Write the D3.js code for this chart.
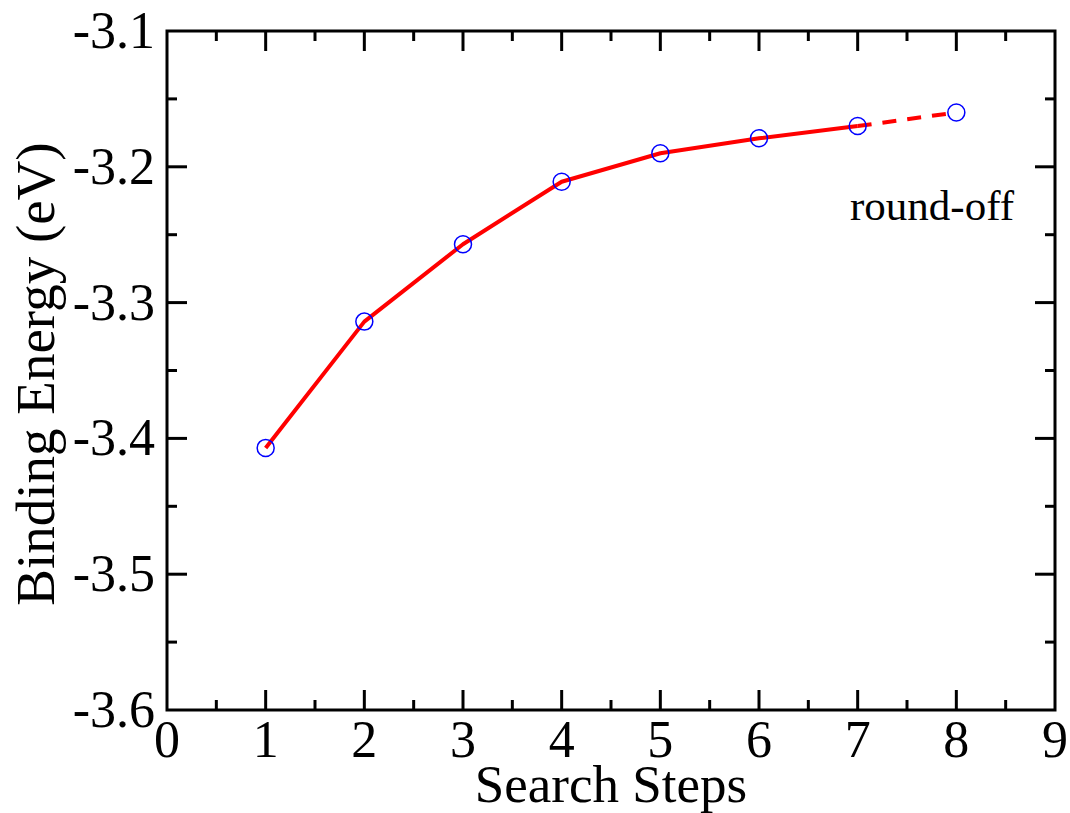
<!DOCTYPE html>
<html>
<head>
<meta charset="utf-8">
<script src="https://cdn.jsdelivr.net/npm/d3@7"></script>
<style>
  body { margin: 0; background: #fff; }
  svg { display: block; }
  text { font-family: "Liberation Serif", "Times New Roman", serif; fill: #000; }
</style>
</head>
<body>
<svg width="1070" height="813"></svg>
<script>
const steps = [1, 2, 3, 4, 5, 6, 7, 8];
const energy = [-3.407, -3.314, -3.257, -3.211, -3.190, -3.179, -3.170, -3.160];
const xTicks = [0, 1, 2, 3, 4, 5, 6, 7, 8, 9];
const yTicks = [-3.6, -3.5, -3.4, -3.3, -3.2, -3.1];
const solidUpTo = 7;   // step where the dashed round-off segment begins
const note = 'round-off';

const svg = d3.select('svg');
const pl = 167, pr = 1055, pt = 31, pb = 710;

const x = d3.scaleLinear().domain([0, 9]).range([pl, pr]);
const y = d3.scaleLinear().domain([-3.6, -3.1]).range([pb, pt]);

const pts = steps.map((s, i) => ({s, e: energy[i]}));

// ticks (inside, mirrored on all sides)
const g = svg.append('g').attr('stroke', '#000').attr('stroke-width', 3);
const xMinor = d3.range(0.5, 9, 1);
const yMinor = d3.range(-3.55, -3.1, 0.1);
xTicks.slice(1, -1).forEach(t => {
  g.append('line').attr('x1', x(t)).attr('x2', x(t)).attr('y1', pb).attr('y2', pb - 20);
  g.append('line').attr('x1', x(t)).attr('x2', x(t)).attr('y1', pt).attr('y2', pt + 20);
});
xMinor.forEach(t => {
  g.append('line').attr('x1', x(t)).attr('x2', x(t)).attr('y1', pb).attr('y2', pb - 10);
  g.append('line').attr('x1', x(t)).attr('x2', x(t)).attr('y1', pt).attr('y2', pt + 10);
});
yTicks.slice(1, -1).forEach(t => {
  g.append('line').attr('y1', y(t)).attr('y2', y(t)).attr('x1', pl).attr('x2', pl + 20);
  g.append('line').attr('y1', y(t)).attr('y2', y(t)).attr('x1', pr).attr('x2', pr - 20);
});
yMinor.forEach(t => {
  g.append('line').attr('y1', y(t)).attr('y2', y(t)).attr('x1', pl).attr('x2', pl + 10);
  g.append('line').attr('y1', y(t)).attr('y2', y(t)).attr('x1', pr).attr('x2', pr - 10);
});
svg.append('rect')
  .attr('x', pl).attr('y', pt)
  .attr('width', pr - pl).attr('height', pb - pt)
  .attr('fill', 'none').attr('stroke', '#000').attr('stroke-width', 3);

// tick labels
svg.selectAll('.xl').data(xTicks).enter().append('text')
  .attr('x', d => x(d)).attr('y', pb + 47)
  .attr('text-anchor', 'middle').attr('font-size', 52)
  .text(d => d);
svg.selectAll('.yl').data(yTicks).enter().append('text')
  .attr('x', pl - 12).attr('y', d => y(d) + 17)
  .attr('text-anchor', 'end').attr('font-size', 52)
  .text(d => d.toFixed(1));

// axis titles
svg.append('text')
  .attr('x', x(4.5)).attr('y', 802)
  .attr('text-anchor', 'middle').attr('font-size', 53)
  .text('Search Steps');
svg.append('text')
  .attr('transform', 'translate(54,374) rotate(-90)')
  .attr('text-anchor', 'middle').attr('font-size', 55)
  .text('Binding Energy (eV)');

// lines
const line = d3.line().x(d => x(d.s)).y(d => y(d.e));
svg.append('path')
  .datum(pts.filter(d => d.s <= solidUpTo))
  .attr('d', line)
  .attr('fill', 'none').attr('stroke', '#ff0000').attr('stroke-width', 4)
  .attr('stroke-linejoin', 'round');
svg.append('path')
  .datum(pts.filter(d => d.s >= solidUpTo))
  .attr('d', line)
  .attr('fill', 'none').attr('stroke', '#ff0000').attr('stroke-width', 4)
  .attr('stroke-dasharray', '14 11');

// markers
svg.selectAll('.pt').data(pts).enter().append('circle')
  .attr('cx', d => x(d.s)).attr('cy', d => y(d.e)).attr('r', 8.5)
  .attr('fill', 'none').attr('stroke', '#0000ff').attr('stroke-width', 1.5);

// annotation
svg.append('text')
  .attr('x', 850).attr('y', 220)
  .attr('font-size', 43)
  .text(note);
</script>
</body>
</html>
